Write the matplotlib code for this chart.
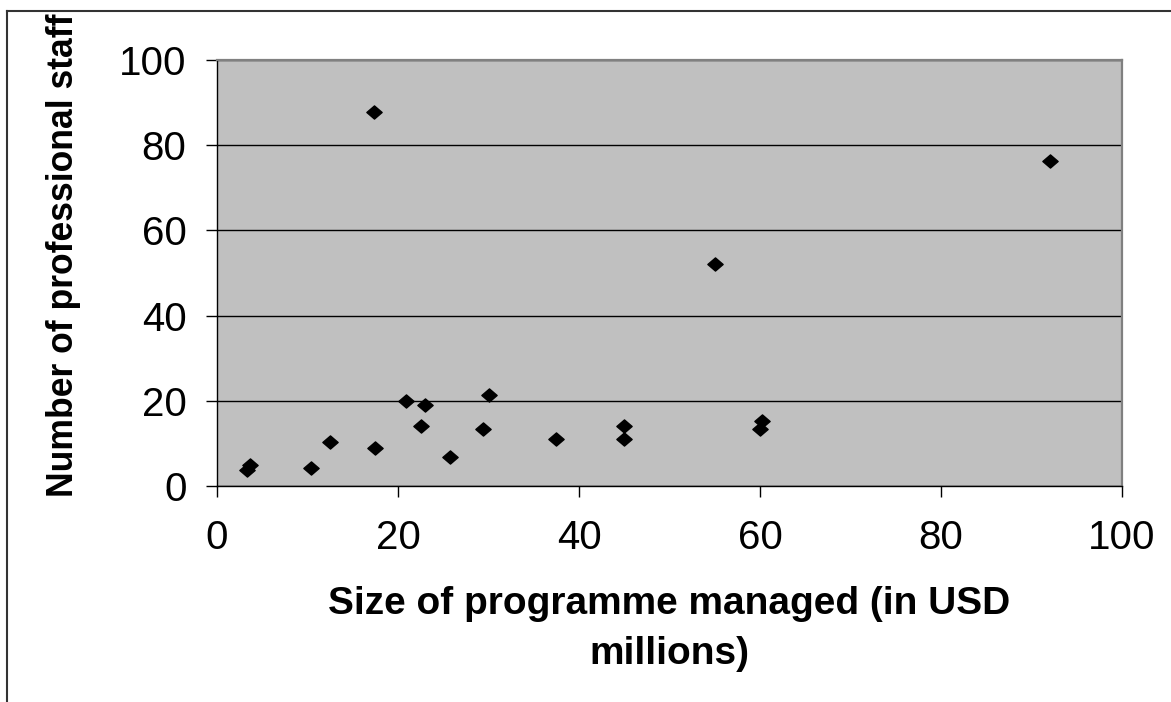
""" Scatter of professional staff against programme size """

import matplotlib
matplotlib.use("Agg")
import matplotlib.pyplot as plt
from matplotlib.lines import Line2D
from matplotlib.path import Path
from matplotlib.transforms import Bbox

# programme size (USD millions) and number of professional staff
programmeSize = [3.3, 3.7, 10.4, 12.5, 17.5, 17.3, 20.9, 22.5, 23.0, 25.8,
                 29.4, 30.1, 37.5, 45.0, 45.0, 55.0, 60.0, 60.2, 92.0]
staffCount = [3.8, 4.9, 4.2, 10.3, 8.9, 87.7, 20.0, 14.2, 19.1, 6.7,
              13.3, 21.4, 11.1, 14.2, 11.1, 52.1, 13.3, 15.2, 76.2]

xTicks = [0, 20, 40, 60, 80, 100]
yTicks = [0, 20, 40, 60, 80, 100]

plt.rcParams['font.family'] = ['Liberation Sans', 'DejaVu Sans']

fig = plt.figure(figsize=(11.71, 7.02), dpi=100)
ax = fig.add_axes([217 / 1171, 1 - 486 / 702, (1122 - 217) / 1171, (486 - 60) / 702])
ax.set_facecolor("#c0c0c0")

# slightly flattened diamond like the original
diamond = Path([(-1, 0), (0, 0.86), (1, 0), (0, -0.86), (-1, 0)],
               [Path.MOVETO, Path.LINETO, Path.LINETO, Path.LINETO, Path.CLOSEPOLY])
ax.plot(programmeSize, staffCount, linestyle="none", marker=diamond,
        markersize=11, color="black", zorder=3, clip_on=False)

ax.set_xlim(0, 100)
ax.set_ylim(0, 100)
ax.set_xticks(xTicks)
ax.set_yticks(yTicks)
ax.yaxis.grid(True, color="black", linewidth=1)
ax.set_axisbelow(True)

for side in ["top", "right"]:
    ax.spines[side].set_color("#808080")
    ax.spines[side].set_linewidth(1.6)
for side in ["left", "bottom"]:
    ax.spines[side].set_color("black")
    ax.spines[side].set_linewidth(1)

ax.tick_params(axis="both", direction="out", length=8, width=1, labelsize=29)
ax.tick_params(axis="y", pad=14)
ax.tick_params(axis="x", pad=16)

ax.set_xlabel("Size of programme managed (in USD\nmillions)", fontsize=28,
              fontweight="bold", linespacing=1.48, labelpad=21)

yl = fig.text(64 / 1171, 1 - 497 / 702, "Number of professional staff", rotation=90,
              fontsize=25.6, fontweight="bold", ha="center", va="bottom")
yl.set_clip_box(Bbox.from_extents(0, 0, 1171, 702 - 12))
yl.set_clip_on(True)

# chart frame: only top and left edges visible
fig.add_artist(Line2D([7 / 1171, 1], [1 - 11 / 702, 1 - 11 / 702], color="#333333", linewidth=1.5))
fig.add_artist(Line2D([7 / 1171, 7 / 1171], [0, 1 - 11 / 702], color="#333333", linewidth=1.5))

plt.savefig("out.png", dpi=100)
